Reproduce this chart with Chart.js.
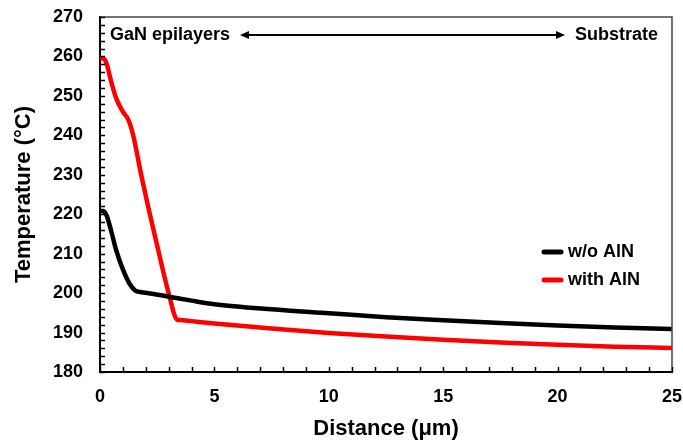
<!DOCTYPE html>
<html>
<head>
<meta charset="utf-8">
<script src="https://cdn.jsdelivr.net/npm/chart.js@4.4.1/dist/chart.umd.min.js"></script>
<style>
  html, body { margin: 0; padding: 0; background: #fff; }
  #wrap { width: 683px; height: 443px; position: relative; }
</style>
</head>
<body>
<div id="wrap"><canvas id="chart"></canvas></div>
<script>
// distance (um) and temperature (C)
const noAlnX = [0, 0.15, 0.3, 0.5, 0.7, 1.0, 1.3, 1.55, 1.75, 2, 3, 4, 5, 7.5, 10, 12.5, 15, 17.5, 20, 22.5, 25];
const noAlnT = [220.8, 220.8, 219.5, 215.5, 211, 206, 202.3, 200.6, 200.3, 200.1, 199.1, 198.1, 197.2, 195.9, 194.9, 193.9, 193.1, 192.4, 191.8, 191.3, 190.9];

const alnX = [0, 0.15, 0.3, 0.45, 0.7, 1.0, 1.25, 1.45, 1.8, 2.1, 2.5, 3.0, 3.37, 3.5, 4, 5, 7.5, 10, 12.5, 15, 17.5, 20, 22.5, 25];
const alnT = [259.5, 259.5, 258, 254.5, 249.5, 246, 243.8, 240, 230, 222, 212, 200, 193.3, 193.2, 192.9, 192.3, 191, 189.9, 189, 188.2, 187.5, 186.9, 186.4, 186.1];

const seriesNames = ['w/o AlN', 'with AlN'];
const seriesColors = ['#000000', '#ff0000'];

const xTicks = [0, 5, 10, 15, 20, 25];
const yTicks = [180, 190, 200, 210, 220, 230, 240, 250, 260, 270];

const FONT = "'Liberation Sans', Arial, sans-serif";

const toPoints = (xs, ys) => xs.map((x, i) => ({x: x, y: ys[i]}));

// frame, inward ticks, legend and the arrow annotation
const decorPlugin = {
    id: 'decor',
    afterDatasetsDraw: (chart) => {
        const {ctx, chartArea: a, scales} = chart;
        const xs = scales.x, ys = scales.y;
        ctx.save();

        // top / right frame
        ctx.strokeStyle = '#444';
        ctx.lineWidth = 1.5;
        ctx.beginPath();
        ctx.moveTo(a.left, a.top);
        ctx.lineTo(a.right, a.top);
        ctx.lineTo(a.right, a.bottom);
        ctx.stroke();

        // inward minor ticks
        ctx.strokeStyle = '#000';
        ctx.lineWidth = 1.5;
        ctx.beginPath();
        for (let v = xs.min; v <= xs.max; v += 1) {
            const px = Math.round(xs.getPixelForValue(v)) + 0.5;
            ctx.moveTo(px, a.bottom);
            ctx.lineTo(px, a.bottom - 5);
        }
        for (let v = ys.min; v <= ys.max; v += 2) {
            const py = Math.round(ys.getPixelForValue(v)) + 0.5;
            ctx.moveTo(a.left, py);
            ctx.lineTo(a.left + 5, py);
        }
        ctx.stroke();

        // legend
        ctx.font = 'bold 18px ' + FONT;
        ctx.textBaseline = 'middle';
        ctx.textAlign = 'left';
        chart.data.datasets.forEach((ds, i) => {
            const yy = a.top + 235 + i * 28;
            ctx.strokeStyle = ds.borderColor;
            ctx.lineWidth = 5;
            ctx.lineCap = 'round';
            ctx.beginPath();
            ctx.moveTo(a.right - 128, yy);
            ctx.lineTo(a.right - 111, yy);
            ctx.stroke();
            ctx.fillStyle = '#000';
            ctx.fillText(ds.label, a.right - 104, yy);
        });

        // annotation
        const ty = a.top + 18;
        ctx.fillStyle = '#000';
        ctx.textAlign = 'left';
        ctx.fillText('GaN epilayers', a.left + 10, ty);
        ctx.textAlign = 'right';
        ctx.fillText('Substrate', a.right - 14, ty);

        const x1 = a.left + 140, x2 = a.right - 107;
        ctx.strokeStyle = '#000';
        ctx.lineWidth = 2;
        ctx.lineCap = 'butt';
        ctx.beginPath();
        ctx.moveTo(x1 + 6, ty);
        ctx.lineTo(x2 - 6, ty);
        ctx.stroke();
        ctx.beginPath();
        ctx.moveTo(x1, ty);
        ctx.lineTo(x1 + 9, ty - 4);
        ctx.lineTo(x1 + 9, ty + 4);
        ctx.closePath();
        ctx.moveTo(x2, ty);
        ctx.lineTo(x2 - 9, ty - 4);
        ctx.lineTo(x2 - 9, ty + 4);
        ctx.closePath();
        ctx.fill();

        ctx.restore();
    }
};

const chartConfig = {
    type: 'scatter',
    data: {
        datasets: [
            {
                label: seriesNames[0],
                data: toPoints(noAlnX, noAlnT),
                showLine: true,
                borderColor: seriesColors[0],
                backgroundColor: seriesColors[0],
                borderWidth: 4.5,
                pointRadius: 0,
                cubicInterpolationMode: 'monotone'
            },
            {
                label: seriesNames[1],
                data: toPoints(alnX, alnT),
                showLine: true,
                borderColor: seriesColors[1],
                backgroundColor: seriesColors[1],
                borderWidth: 4.5,
                pointRadius: 0,
                cubicInterpolationMode: 'monotone'
            }
        ]
    },
    options: {
        responsive: true,
        maintainAspectRatio: false,
        animation: false,
        layout: {padding: {top: 17, right: 11, left: 0, bottom: 0}},
        plugins: {
            legend: {display: false},
            tooltip: {enabled: false}
        },
        scales: {
            x: {
                type: 'linear',
                min: 0,
                max: 25,
                afterBuildTicks: (scale) => { scale.ticks = xTicks.map(v => ({value: v})); },
                afterFit: (scale) => {
                    scale.height = 71;
                    scale.paddingLeft = 0;
                    scale.paddingRight = 0;
                },
                grid: {display: false, drawTicks: false},
                border: {display: true, color: '#000', width: 2},
                ticks: {
                    padding: 14,
                    color: '#000',
                    font: {family: FONT, size: 18, weight: 'bold'}
                },
                title: {
                    display: true,
                    text: 'Distance (μm)',
                    color: '#000',
                    padding: {top: 0, bottom: 1},
                    font: {family: FONT, size: 22, weight: 'bold'}
                }
            },
            y: {
                type: 'linear',
                min: 180,
                max: 270,
                afterBuildTicks: (scale) => { scale.ticks = yTicks.map(v => ({value: v})); },
                afterFit: (scale) => {
                    scale.width = 100;
                    scale.paddingTop = 0;
                    scale.paddingBottom = 0;
                },
                grid: {display: false, drawTicks: false},
                border: {display: true, color: '#000', width: 2},
                ticks: {
                    padding: 17,
                    color: '#000',
                    font: {family: FONT, size: 18, weight: 'bold'}
                },
                title: {
                    display: true,
                    text: 'Temperature (°C)',
                    color: '#000',
                    padding: {top: 11, bottom: 0},
                    font: {family: FONT, size: 22, weight: 'bold'}
                }
            }
        }
    },
    plugins: [decorPlugin]
};

new Chart(document.getElementById('chart'), chartConfig);
</script>
</body>
</html>
